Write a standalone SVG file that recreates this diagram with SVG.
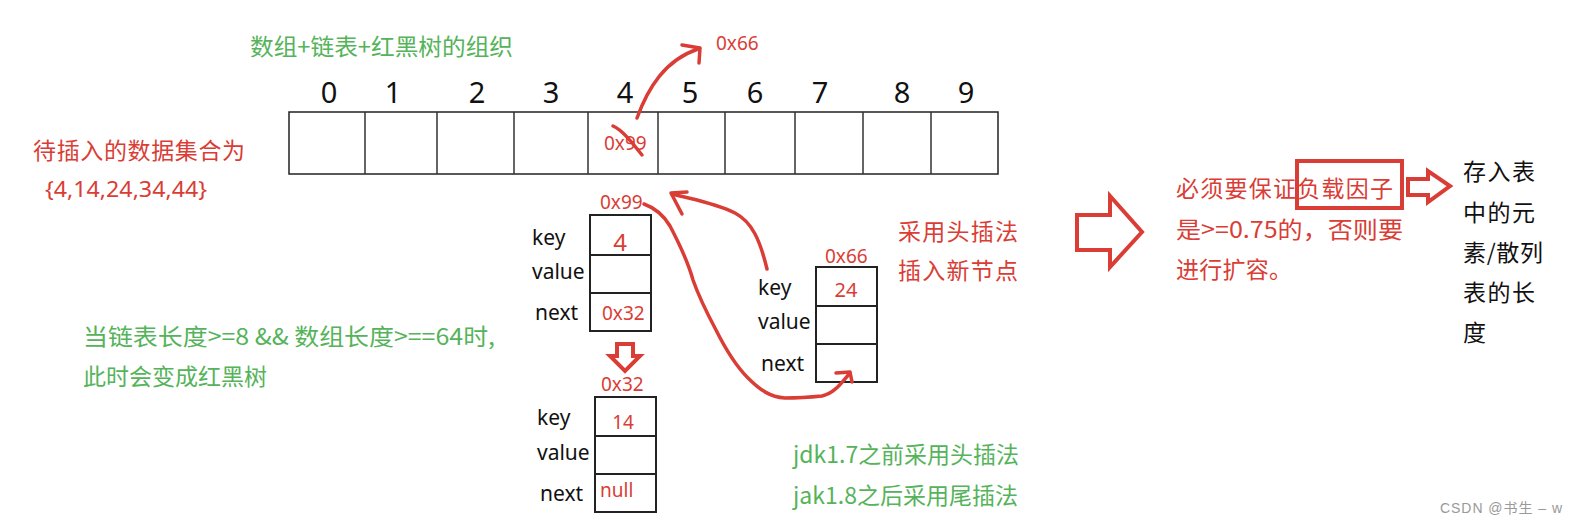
<svg xmlns="http://www.w3.org/2000/svg" width="1575" height="526" viewBox="0 0 1575 526">
<style>
text{font-family:"Noto Sans","Noto Sans CJK SC",sans-serif}
.cjk{font-family:"Noto Sans CJK SC","Noto Sans",sans-serif}
.red{fill:#d93d35}
.green{fill:#55b35a}
.blk{fill:#111}
.idx{font-size:29px;fill:#111;text-anchor:middle}
.lbl{font-size:21px;fill:#111}
.addr{font-size:19px;fill:#d93d35}
.t21{font-size:23px}
.cell{fill:#fff;stroke:#222;stroke-width:2}
.arr{fill:#fff;stroke:#222;stroke-width:1.5}
.pen{fill:none;stroke:#d93d35;stroke-width:3.5;stroke-linecap:round;stroke-linejoin:round}
.hollow{fill:#fff;stroke:#d93d35;stroke-width:4;stroke-linejoin:miter}
</style>
<rect width="1575" height="526" fill="#fff"/>

<g id="title"><text class="cjk green t21" x="250" y="55" textLength="263" lengthAdjust="spacingAndGlyphs">数组+链表+红黑树的组织</text></g>

<g id="array">
  <rect class="arr" x="289" y="112" width="709" height="62"/>
  <path d="M365 112V174M437 112V174M514 112V174M588 112V174M658 112V174M725 112V174M795 112V174M863 112V174M931 112V174" stroke="#333" stroke-width="1.5"/>
  <text class="idx" x="329" y="103">0</text>
  <text class="idx" x="393" y="103">1</text>
  <text class="idx" x="477" y="103">2</text>
  <text class="idx" x="551" y="103">3</text>
  <text class="idx" x="625" y="103">4</text>
  <text class="idx" x="690" y="103">5</text>
  <text class="idx" x="755" y="103">6</text>
  <text class="idx" x="820" y="103">7</text>
  <text class="idx" x="902" y="103">8</text>
  <text class="idx" x="966" y="103">9</text>
  <text class="addr" x="604" y="150">0x99</text>
</g>

<g id="input"><text class="cjk red t21" x="33" y="159" textLength="212">待插入的数据集合为</text>
<text class="red t21" x="45" y="197" textLength="162" lengthAdjust="spacingAndGlyphs" style="font-size:22px">{4,14,24,34,44}</text></g>

<g id="node-0x99">
  <text class="addr" x="600" y="209">0x99</text>
  <rect class="cell" x="590" y="215" width="61" height="116"/>
  <path d="M590 255H651M590 293H651" stroke="#222" stroke-width="2"/>
  <text class="lbl" x="532" y="245">key</text>
  <text class="lbl" x="532" y="279">value</text>
  <text class="lbl" x="535" y="320">next</text>
  <text x="620" y="251" text-anchor="middle" style="font-size:24px" class="red">4</text>
  <text class="addr" x="602" y="320">0x32</text>
</g>

<g id="node-0x32">
  <text class="addr" x="601" y="391">0x32</text>
  <rect class="cell" x="595" y="397" width="61" height="115"/>
  <path d="M595 436H656M595 474H656" stroke="#222" stroke-width="2"/>
  <text class="lbl" x="537" y="425">key</text>
  <text class="lbl" x="537" y="460">value</text>
  <text class="lbl" x="540" y="501">next</text>
  <text x="623" y="429" text-anchor="middle" style="font-size:19px" class="red">14</text>
  <text class="addr" x="600" y="497">null</text>
</g>

<g id="node-0x66">
  <text class="addr" x="825" y="263">0x66</text>
  <rect class="cell" x="816" y="267" width="61" height="115"/>
  <path d="M816 306H877M816 344H877" stroke="#222" stroke-width="2"/>
  <text class="lbl" x="758" y="295">key</text>
  <text class="lbl" x="758" y="329">value</text>
  <text class="lbl" x="761" y="371">next</text>
  <text x="846" y="297" text-anchor="middle" style="font-size:20px" class="red">24</text>
</g>

<g id="notes">
  <text class="cjk red t21" x="898" y="240" textLength="120">采用头插法</text>
  <text class="cjk red t21" x="898" y="279" textLength="120">插入新节点</text>
  <text class="cjk green t21" x="83" y="345" textLength="412" lengthAdjust="spacingAndGlyphs">当链表长度&gt;=8 &amp;&amp; 数组长度&gt;==64时,</text>
  <text class="cjk green t21" x="83" y="385" textLength="184">此时会变成红黑树</text>
  <text class="cjk green t21" x="793" y="463" textLength="226" lengthAdjust="spacingAndGlyphs">jdk1.7之前采用头插法</text>
  <text class="cjk green t21" x="793" y="504" textLength="225" lengthAdjust="spacingAndGlyphs">jak1.8之后采用尾插法</text>
  <text class="cjk red t21" x="1176" y="197" textLength="217">必须要保证负载因子</text>
  <text class="cjk red t21" x="1176" y="238" textLength="227" lengthAdjust="spacingAndGlyphs">是&gt;=0.75的，否则要</text>
  <text class="cjk red t21" x="1176" y="278" textLength="116">进行扩容。</text>
  <rect x="1297" y="161" width="105" height="47" fill="none" stroke="#d93d35" stroke-width="4"/>
  <text class="cjk blk t21" x="1463" y="180" textLength="72">存入表</text>
  <text class="cjk blk t21" x="1463" y="221" textLength="72">中的元</text>
  <text class="cjk blk t21" x="1463" y="261" textLength="80">素/散列</text>
  <text class="cjk blk t21" x="1463" y="301" textLength="72">表的长</text>
  <text class="cjk blk t21" x="1463" y="341">度</text>
  <text class="addr" x="716" y="50">0x66</text>
</g>

<g id="connectors">
  <path class="pen" d="M637 118C648 88 665 60 698 49"/>
  <path class="pen" d="M682 45L700 48L699 63"/>
  <path class="pen" d="M613 126C622 130 630 140 642 155" stroke-width="2.5"/>
  <path class="pen" d="M767 269C760 240 752 222 735 213C715 203 695 200 672 194"/>
  <path class="pen" d="M687 192L671 193L682 214"/>
  <path class="pen" stroke-width="2.5" d="M644 204C655 208 663 214 670 226C680 245 688 262 693 280C700 300 708 315 716 330C726 350 735 365 748 378C760 390 770 397 785 398C800 398 812 397 822 396C835 393 842 382 850 373"/>
  <path class="pen" stroke-width="2.5" d="M836 373L850 372L852 382"/>
  <path class="hollow" stroke-width="3.5" d="M617 344H633V356H640L625 371L610 356H617Z"/>
  <path class="hollow" d="M1077 215H1110V196L1142 232L1110 267V250H1077Z"/>
  <path class="hollow" stroke-width="3.5" d="M1408 179H1428V171L1450 186L1428 202V195H1408Z"/>
</g>

<text x="1440" y="513" textLength="122" style="font-family:'Liberation Sans','Noto Sans CJK SC',sans-serif;font-size:14px" fill="#999">CSDN @书生 – w</text>
</svg>
